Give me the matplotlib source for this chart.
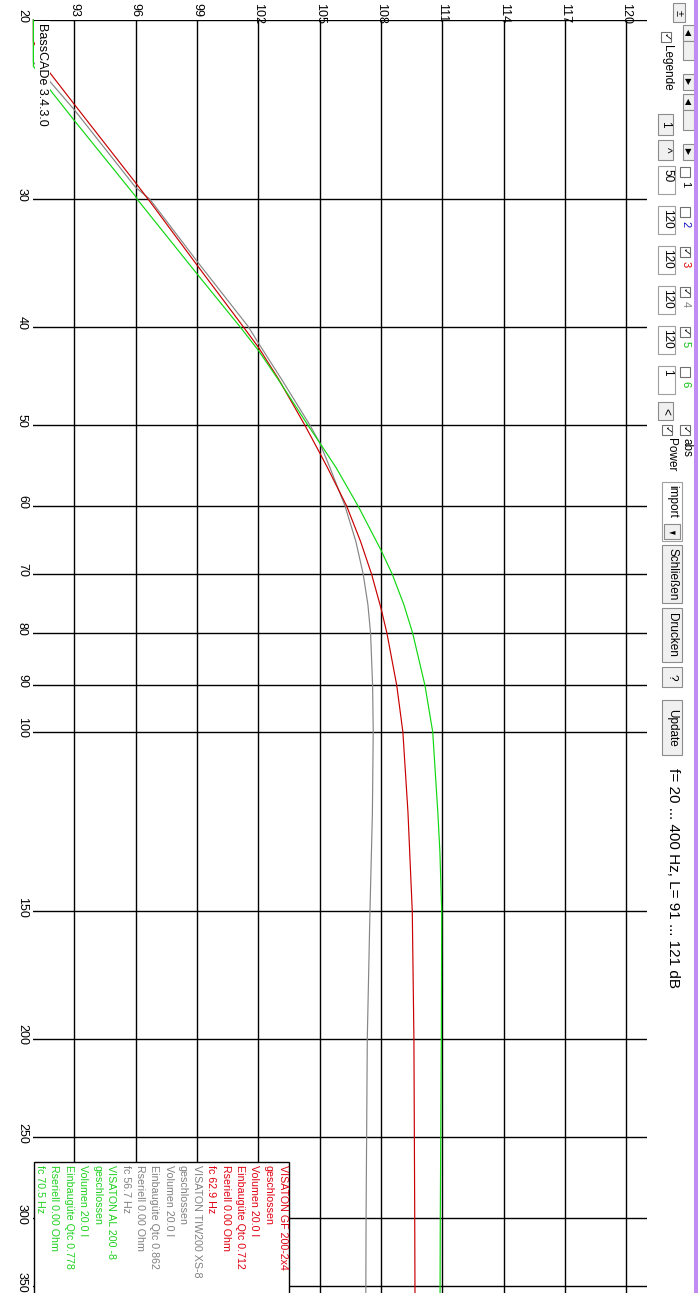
import numpy as np
import matplotlib
matplotlib.use("Agg")
import matplotlib.pyplot as plt
from matplotlib.patches import Rectangle
from matplotlib.transforms import offset_copy

# ---------------- data ----------------
freq_red = [20, 21, 22.5, 24.2, 28.9, 30, 34.8, 40, 41.9, 45, 50, 53.2, 55, 60, 65, 70, 75.6, 80, 90, 100,
            120, 150, 200, 300, 400]
spl_red = [89.7, 90.6, 91.78, 93.0, 96.0, 96.62, 99.0, 101.26, 102.0, 102.98, 104.28, 105.0, 105.38, 106.32,
           107.0, 107.54, 108.0, 108.29, 108.77, 109.07, 109.32, 109.53, 109.61, 109.65, 109.67]

freq_grey = [20, 21, 22.0, 22.95, 24.5, 29.2, 30, 34.5, 40, 41.5, 45, 50, 52, 55, 60, 65, 70, 75, 80, 90, 100,
             120, 150, 200, 300, 400]
spl_grey = [89.4, 90.2, 91.0, 91.78, 93.0, 96.0, 96.70, 99.0, 101.51, 102.0, 103.12, 104.53, 105.0, 105.5,
            106.24, 106.77, 107.13, 107.36, 107.49, 107.59, 107.62, 107.58, 107.46, 107.33, 107.27, 107.25]

freq_green = [20, 21, 22.2, 23.37, 25.1, 29.8, 30, 35.5, 40, 42.2, 45, 50, 52, 55, 60, 66.3, 70, 75, 80, 90,
              100, 120, 131, 150, 200, 300, 400]
spl_green = [89.1, 89.9, 90.95, 91.78, 93.0, 96.0, 96.08, 99.0, 101.10, 102.0, 102.95, 104.43, 105.0, 105.8,
             106.88, 108.0, 108.55, 109.12, 109.55, 110.15, 110.53, 110.78, 110.88, 110.97, 110.95, 110.90,
             110.88]

freq_grid = [20, 30, 40, 50, 60, 70, 80, 90, 100, 150, 200, 250, 300, 350, 400]
freq_labels = ["20", "30", "40", "50", "60", "70", "80", "90", "100", "150", "200", "250", "300", "350", "400"]
spl_ticks = [93, 96, 99, 102, 105, 108, 111, 114, 117, 120]
spl_labels = ["93", "96", "99", "102", "105", "108", "111", "114", "117", "120"]

legend_red = ["VISATON GF 200-2x4", "geschlossen", "Volumen 20.0 l", "Einbaugüte Qtc 0.712",
              "Rseriell 0.00 Ohm", "fc 62.9 Hz"]
legend_grey = ["VISATON TIW200 XS-8", "geschlossen", "Volumen 20.0 l", "Einbaugüte Qtc 0.862",
               "Rseriell 0.00 Ohm", "fc 56.7 Hz"]
legend_green = ["VISATON AL 200 -8", "geschlossen", "Volumen 20.0 l", "Einbaugüte Qtc 0.778",
                "Rseriell 0.00 Ohm", "fc 70.5 Hz"]

# ---------------- figure ----------------
W, H = 698, 1293
fig = plt.figure(figsize=(W / 100, H / 100), dpi=100)
fig.patch.set_facecolor("white")

NARROW = ["Liberation Sans Narrow", "Liberation Sans", "DejaVu Sans"]
SANS = ["Liberation Sans", "DejaVu Sans"]

SPL_MIN, SPL_MAX = 91, 121
F_MIN, F_MAX = 20, 400
ax_l, ax_r = 33.4, 646.8
ax_t = 20.0
ax_b = ax_t + 1018.6 * np.log10(F_MAX / F_MIN)
ax = fig.add_axes([ax_l / W, 1 - ax_b / H, (ax_r - ax_l) / W, (ax_b - ax_t) / H])
ax.set_xlim(SPL_MIN, SPL_MAX)
ax.set_yscale("log")
ax.set_ylim(F_MAX, F_MIN)
ax.set_facecolor("none")
for s in ax.spines.values():
    s.set_visible(False)
ax.set_xticks([])
ax.set_yticks([])
ax.yaxis.set_minor_locator(matplotlib.ticker.NullLocator())

for f in freq_grid:
    ax.axhline(f, color="black", lw=1.0, zorder=1)
for v in spl_ticks:
    ax.axvline(v, color="black", lw=1.0, zorder=1)

for fr, sp, col in [(freq_grey, spl_grey, "#858585"), (freq_red, spl_red, "#c80000"),
                    (freq_green, spl_green, "#10d810")]:
    ax.plot(np.clip(sp, SPL_MIN, SPL_MAX), fr, color=col, lw=0.85, zorder=2, clip_on=False)

# tick labels
ytr = offset_copy(ax.get_yaxis_transform(), fig=fig, x=-5.5, y=4, units="dots")
for f, lab in zip(freq_grid, freq_labels):
    ax.text(0, f, lab, transform=ytr, rotation=-90, ha="right", va="center",
            fontsize=9, family=NARROW, color="black")
xtr = offset_copy(ax.get_xaxis_transform(), fig=fig, x=0, y=17, units="dots")
for v, lab in zip(spl_ticks, spl_labels):
    ax.text(v, 1, lab, transform=xtr, rotation=-90, ha="center", va="top",
            fontsize=9, family=NARROW, color="black")


# ---------------- helpers in pixel coords ----------------
def rect(x0, y0, x1, y1, fc="white", ec="none", lw=1.0, z=3):
    r = Rectangle((x0 / W, 1 - y1 / H), (x1 - x0) / W, (y1 - y0) / H, transform=fig.transFigure,
                  facecolor=fc, edgecolor=ec, lw=lw, zorder=z)
    fig.add_artist(r)
    return r


def vtext(x, y, s, size=9, color="black", family=SANS, va="center", z=5, rot=-90):
    fig.text(x / W, 1 - y / H, s, rotation=rot, ha="center", va=va, fontsize=size,
             color=color, family=family, zorder=z)


# BassCADe label with white background
rect(35, 21, 49.5, 113, fc="white", z=3)
vtext(41.5, 23, "BassCADe 3.4.3.0", size=9, family=NARROW, va="top")

# legend box
rect(34, 1162, 289, 1320, fc="white", ec="black", lw=1.0, z=3)
lines = [(t, "#e00010") for t in legend_red] + [(t, "#808080") for t in legend_grey] + \
        [(t, "#20d020") for t in legend_green]
for i, (t, c) in enumerate(lines):
    vtext(283 - i * 14.3, 1165, t, size=7.7, color=c, va="top")

# ---------------- right control panel ----------------
BTN_FC, BTN_EC = "#f0f0f0", "#8c8c8c"


def button(x0, y0, x1, y1, label="", size=9, color="black", fc=BTN_FC, rot=-90):
    rect(x0, y0, x1, y1, fc=fc, ec=BTN_EC, lw=0.8, z=3)
    if label:
        vtext((x0 + x1) / 2, (y0 + y1) / 2, label, size=size, color=color,
              family=["DejaVu Sans"] if rot == 0 else SANS, rot=rot)


def checkbox(x0, y0, checked):
    rect(x0, y0, x0 + 10, y0 + 10, fc="white", ec="#707070", lw=0.8, z=3)
    if checked:
        vtext(x0 + 5, y0 + 5, "✓", size=7, family=["DejaVu Sans"])


button(673, 3, 685, 22, "±", size=8)
button(683, 25, 694, 41, "▲", size=6, rot=0)
button(683, 41, 694, 60, "")
button(683, 74, 694, 90, "▼", size=6, rot=0)
button(683, 94, 694, 110, "▲", size=6, rot=0)
button(683, 110, 694, 130, "")
button(683, 144, 694, 160, "▼", size=6, rot=0)
checkbox(661, 32, True)
vtext(667, 45, "Legende", size=8.5, va="top")
button(658, 114, 673, 135, "1", size=8.5)
button(658, 140, 673, 160, "^", size=8.5)

box_labels = ["50", "120", "120", "120", "120", "1"]
box_checked = [False, False, True, True, True, False]
num_colors = ["black", "#1010c0", "#e00000", "#808080", "#10c010", "#10c010"]
for i in range(6):
    y0 = 166 + i * 40
    rect(658, y0, 675, y0 + 28, fc="white", ec="#a0a0a0", lw=0.8, z=3)
    vtext(667, y0 + 3, box_labels[i], size=8.5, va="top")
    checkbox(680, y0 + 1, box_checked[i])
    vtext(685.5, y0 + 15, str(i + 1), size=8, color=num_colors[i], va="top")

button(658, 402, 673, 420, "<", size=8.5)
checkbox(662, 425, True)
checkbox(680, 425, True)
vtext(686, 438, "abs", size=8.5, va="top")
vtext(671, 438, "Power", size=8.5, va="top")

rect(662, 482, 682, 541, fc="white", ec="#a0a0a0", lw=0.8, z=3)
vtext(672, 485, "import", size=8.5, va="top")
button(664, 524, 680, 539, "◄", size=6, rot=0)
button(662, 545, 682, 603, "Schließen", size=8.5)
button(662, 608, 682, 662, "Drucken", size=8.5)
button(662, 667, 682, 687, "?", size=8.5)
button(662, 700, 682, 755, "Update", size=8.5)
vtext(673, 768, "f= 20 ... 400 Hz, L= 91 ... 121 dB", size=11, va="top")

# purple window edge
rect(693.5, -5, 699, H + 5, fc="#c08cf4", ec="none", z=3)

fig.savefig("out.png", dpi=100, facecolor="white")
